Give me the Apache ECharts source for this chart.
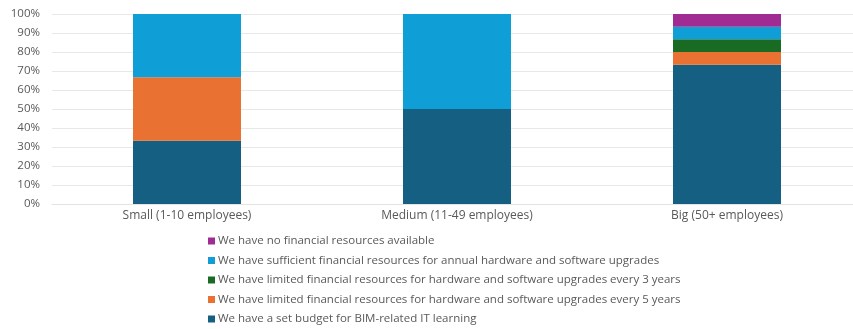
<!DOCTYPE html>
<html>
<head>
<meta charset="utf-8">
<script src="https://cdn.jsdelivr.net/npm/echarts@6/dist/echarts.min.js"></script>
<style>
  html, body { margin: 0; padding: 0; background: #ffffff; overflow: hidden; }
  #chart { width: 870px; height: 329px; }
</style>
</head>
<body>
<div id="chart"></div>
<script>
// Company size groups on the x axis
const categories = ['Small (1-10 employees)', 'Medium (11-49 employees)', 'Big (50+ employees)'];

// Share of respondents (%) per answer, stacked bottom to top
const setBudget = [33.33, 50, 73.33];
const limited5y = [33.33, 0, 6.67];
const limited3y = [0, 0, 6.67];
const sufficientAnnual = [33.34, 50, 6.67];
const noResources = [0, 0, 6.66];

const seriesNames = [
  'We have a set budget for BIM-related IT learning',
  'We have limited financial resources for hardware and software upgrades every 5 years',
  'We have limited financial resources for hardware and software upgrades every 3 years',
  'We have sufficient financial resources for annual hardware and software upgrades',
  'We have no financial resources available'
];
const seriesValues = [setBudget, limited5y, limited3y, sufficientAnnual, noResources];
const colors = ['#156082', '#E97132', '#196B24', '#0F9ED5', '#A02B93'];

const yTicks = { min: 0, max: 100, interval: 10 };

const font = 'Open Sans, Noto Sans, sans-serif';
const chart = echarts.init(document.getElementById('chart'), null, { renderer: 'canvas' });

chart.setOption({
  animation: false,
  color: colors,
  grid: { left: 52, top: 14, width: 810, height: 190, containLabel: false },
  xAxis: {
    type: 'category',
    data: categories,
    axisLine: { show: true, lineStyle: { color: '#e3e3e3', width: 1 } },
    axisTick: { show: false },
    axisLabel: { color: '#595959', fontSize: 12, fontFamily: font, margin: 6 }
  },
  yAxis: {
    type: 'value',
    min: yTicks.min,
    max: yTicks.max,
    interval: yTicks.interval,
    axisLine: { show: false },
    axisTick: { show: false },
    splitLine: { lineStyle: { color: '#e8e8e8', width: 1 } },
    axisLabel: { color: '#595959', fontSize: 11.5, fontFamily: font, margin: 12, formatter: '{value}%' }
  },
  legend: {
    orient: 'vertical',
    left: 203,
    top: 230,
    height: 110,
    itemWidth: 7,
    itemHeight: 7,
    itemGap: 7.5,
    icon: 'rect',
    data: seriesNames.slice().reverse(),
    textStyle: { color: '#595959', fontSize: 11.5, fontFamily: font, padding: [0, 0, 0, -2] }
  },
  series: seriesNames.map((name, i) => ({
    name: name,
    type: 'bar',
    stack: 'total',
    barWidth: 108,
    data: seriesValues[i],
    itemStyle: { color: colors[i] }
  }))
});
</script>
</body>
</html>
